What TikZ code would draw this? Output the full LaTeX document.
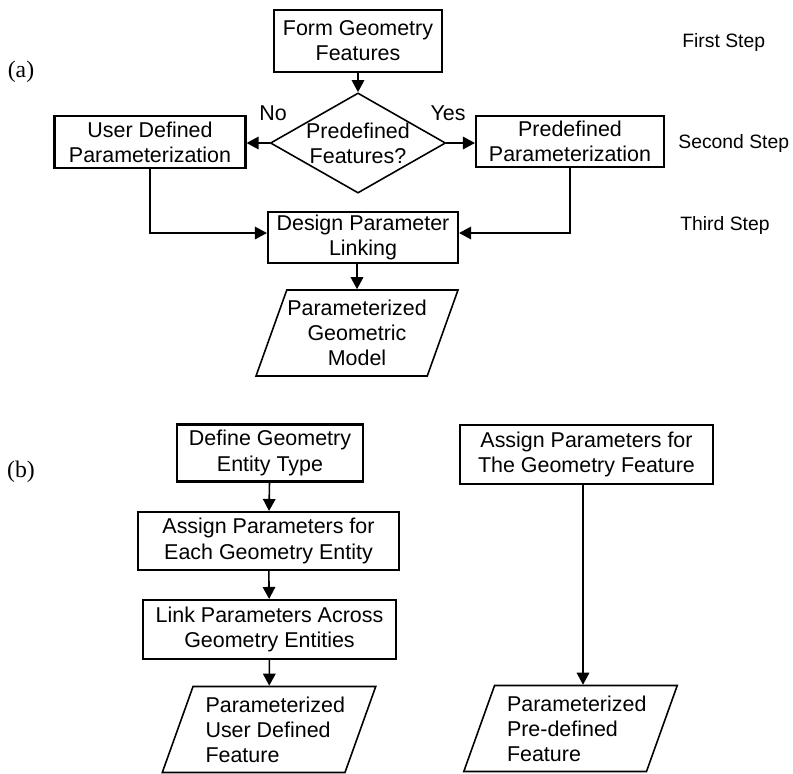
\documentclass[tikz,border=0pt]{standalone}
\usepackage{fontspec}
\setmainfont{Liberation Sans}
\newfontfamily\panelfont{Liberation Serif}
\usetikzlibrary{arrows.meta,shapes.geometric}

\begin{document}
\begin{tikzpicture}[>={Triangle[length=2.4mm,width=2.5mm]},
    font=\fontsize{12.2}{14.3}\selectfont,
    procbox/.style={draw,line width=1.2pt,align=center,inner sep=0pt},
    databox/.style={draw,line width=0.9pt,trapezium,trapezium left angle=65,trapezium right angle=115,
      trapezium stretches body,inner sep=0pt,minimum width=4.04cm,minimum height=1.72cm},
    decbox/.style={draw,line width=0.9pt,diamond,aspect=1.75,inner sep=0pt,align=center},
    panel/.style={font=\panelfont\fontsize{13.5}{15}\selectfont},
    stagelabel/.style={anchor=west,inner sep=0pt,font=\fontsize{11}{13}\selectfont}]
  \useasboundingbox (0,0) rectangle (15.86,-15.46);

  % (a) overall procedure
  \node[panel] (lbla) at (0.42,-1.44) {(a)};
  \node[procbox,minimum width=3.36cm,minimum height=1.24cm] (form) at (7.16,-0.82) {Form Geometry\\Features};
  \node[decbox] (predq) at (7.16,-2.86) {Predefined\\Features?};
  \node[procbox,minimum width=3.82cm,minimum height=1.04cm] (userpar) at (3.0,-2.84) {User Defined\\Parameterization};
  \node[procbox,minimum width=3.76cm,minimum height=1.02cm] (prepar) at (11.4,-2.83) {Predefined\\Parameterization};
  \node (no) at (5.46,-2.26) {No};
  \node (yes) at (8.96,-2.26) {Yes};
  \node[procbox,minimum width=3.8cm,minimum height=1.02cm] (linking) at (7.26,-4.75) {Design Parameter\\Linking};
  \node[databox,align=center] (geomodel) at (7.14,-6.66) {Parameterized\\Geometric\\Model};

  \node[stagelabel] (first) at (13.64,-0.84) {First Step};
  \node[stagelabel] (second) at (13.56,-2.86) {Second Step};
  \node[stagelabel] (third) at (13.6,-4.5) {Third Step};

  \draw[->,line width=0.9pt] (form) -- (predq);
  \draw[->,line width=0.9pt] (predq.west) -- (predq.west -| userpar.east);
  \draw[->,line width=0.9pt] (predq.east) -- (predq.east -| prepar.west);
  \draw[->,line width=0.9pt] (userpar) |- ([yshift=0.09cm]linking.west);
  \draw[->,line width=0.9pt] (prepar) |- ([yshift=0.09cm]linking.east);
  \draw[->,line width=0.9pt] (linking.south -| geomodel.north) -- (geomodel.north);

  % (b) user defined vs. predefined features
  \node[panel] (lblb) at (0.42,-9.44) {(b)};
  \node[procbox,minimum width=3.72cm,minimum height=1.14cm] (deftype) at (5.4,-9.06) {Define Geometry\\Entity Type};
  \node[procbox,minimum width=5.22cm,minimum height=1.16cm] (assigneach) at (5.37,-10.82) {Assign Parameters for\\Each Geometry Entity};
  \node[procbox,minimum width=5.06cm,minimum height=1.18cm] (linkacross) at (5.39,-12.59) {Link Parameters Across\\Geometry Entities};
  \node[databox,align=left] (userfeat) at (5.38,-14.59) {\hspace{0.25cm}Parameterized\\\hspace{0.25cm}User Defined\\\hspace{0.25cm}Feature};

  \node[procbox,minimum width=5.06cm,minimum height=1.18cm] (assignfeat) at (11.73,-9.09) {Assign Parameters for\\The Geometry Feature};
  \node[databox,align=left] (prefeat) at (11.41,-14.57) {\hspace{0.25cm}Parameterized\\\hspace{0.25cm}Pre-defined\\\hspace{0.25cm}Feature};

  \draw[->,line width=0.9pt] (deftype) -- (assigneach);
  \draw[->,line width=0.9pt] (assigneach) -- (linkacross);
  \draw[->,line width=0.9pt] (linkacross) -- (userfeat);
  \draw[->,line width=0.9pt] ([xshift=-0.07cm]assignfeat.south) -- ([xshift=-0.07cm]assignfeat.south |- prefeat.north);
\end{tikzpicture}
\end{document}
